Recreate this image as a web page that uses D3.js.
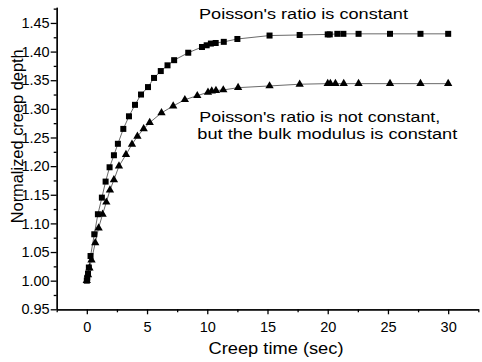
<!DOCTYPE html>
<html><head><meta charset="utf-8">
<script src="https://cdn.jsdelivr.net/npm/d3@7"></script>
<style>
html,body{margin:0;padding:0;background:#fff;}
svg{display:block;font-family:"Liberation Sans",Arial,sans-serif;}
</style></head>
<body><svg id="c" width="482" height="362"></svg>
<script>
// Series: Poisson's ratio constant (squares)
const sqX = [0,0.04,0.1,0.17,0.31,0.62,0.92,1.25,1.56,1.89,2.25,2.58,3.03,3.5,4.0,4.5,5.08,5.58,6.14,6.7,7.25,8.42,9.56,9.95,10.3,10.7,11.37,12.5,15.17,17.67,20.0,20.17,20.8,21.3,22.56,25.17,27.7,30.0];
const sqY = [1.000,1.005,1.012,1.023,1.043,1.081,1.116,1.145,1.173,1.198,1.219,1.239,1.265,1.287,1.307,1.325,1.338,1.354,1.366,1.376,1.385,1.398,1.408,1.411,1.414,1.415,1.417,1.422,1.428,1.429,1.430,1.430,1.431,1.431,1.431,1.431,1.431,1.431];
// Series: Poisson's ratio not constant, bulk modulus constant (triangles)
const trX = [0,0.1,0.22,0.39,0.7,0.98,1.31,1.62,1.92,2.25,2.67,3.25,3.75,4.2,4.72,5.22,6.2,7.17,8.14,9.17,10.06,10.37,10.72,11.33,12.56,15.17,17.67,20.0,20.22,20.64,21.33,22.56,25.17,27.7,30.0];
const trY = [1.000,1.010,1.022,1.036,1.066,1.092,1.116,1.137,1.158,1.176,1.200,1.220,1.238,1.252,1.265,1.276,1.293,1.305,1.316,1.323,1.329,1.331,1.332,1.333,1.337,1.340,1.343,1.344,1.344,1.344,1.344,1.344,1.344,1.344,1.344];
const xTicks = [0,5,10,15,20,25,30];
const xMinor = [-2.5,2.5,7.5,12.5,17.5,22.5,27.5,32.5];
const yTicks = [0.95,1.00,1.05,1.10,1.15,1.20,1.25,1.30,1.35,1.40,1.45];
const yMinor = [0.975,1.025,1.075,1.125,1.175,1.225,1.275,1.325,1.375,1.425,1.475];
const xTitle = "Creep time (sec)";
const yTitle = "Normalized creep depth";
const note1 = "Poisson's ratio is constant";
const note2a = "Poisson's ratio is not constant,";
const note2b = "but the bulk modulus is constant";

const svg = d3.select("#c");
const x = d3.scaleLinear().domain([-2.5,32.5]).range([56.7,478.3]);
const y = d3.scaleLinear().domain([0.95,1.4775]).range([309.3,7.2]);

// axes
const gx = svg.append("g").attr("transform",`translate(0,${y(0.95)})`)
  .call(d3.axisBottom(x).tickValues(xTicks).tickFormat(d3.format("d")).tickSize(5).tickSizeOuter(0).tickPadding(7));
const gxm = svg.append("g").attr("transform",`translate(0,${y(0.95)})`)
  .call(d3.axisBottom(x).tickValues(xMinor).tickFormat("").tickSize(3).tickSizeOuter(0));
const gy = svg.append("g").attr("transform",`translate(${x(-2.5)},0)`)
  .call(d3.axisLeft(y).tickValues(yTicks).tickFormat(d3.format(".2f")).tickSize(6).tickSizeOuter(0).tickPadding(1));
const gym = svg.append("g").attr("transform",`translate(${x(-2.5)},0)`)
  .call(d3.axisLeft(y).tickValues(yMinor).tickFormat("").tickSize(3).tickSizeOuter(0));
[gx,gxm,gy,gym].forEach(g=>{
  g.selectAll("path,line").attr("stroke","#000").attr("stroke-width",1.3);
  g.selectAll("text").attr("fill","#000").attr("font-size",14.5).attr("font-family","Liberation Sans, Arial, sans-serif");
});

// lines
const line = d3.line().x(d=>x(d[0])).y(d=>y(d[1]));
const sq = sqX.map((v,i)=>[v,sqY[i]]);
const tr = trX.map((v,i)=>[v,trY[i]]);
svg.append("path").datum(sq).attr("d",line).attr("fill","none").attr("stroke","#444").attr("stroke-width",0.8);
svg.append("path").datum(tr).attr("d",line).attr("fill","none").attr("stroke","#444").attr("stroke-width",0.8);

// markers
svg.append("g").selectAll("rect").data(sq).join("rect")
  .attr("x",d=>x(d[0])-3).attr("y",d=>y(d[1])-3).attr("width",6).attr("height",6).attr("fill","#000");
const tri = d3.symbol().type(d3.symbolTriangle).size(30);
svg.append("g").selectAll("path").data(tr).join("path")
  .attr("transform",d=>`translate(${x(d[0])},${y(d[1])})`).attr("d",tri).attr("fill","#000");

// titles
svg.append("text").attr("x",276).attr("y",354).attr("text-anchor","middle")
  .attr("font-size",16.5).attr("textLength",135).attr("lengthAdjust","spacingAndGlyphs").text(xTitle);
svg.append("text").attr("transform","translate(23,136.3) rotate(-90)").attr("text-anchor","middle")
  .attr("font-size",16).attr("textLength",174).attr("lengthAdjust","spacingAndGlyphs").text(yTitle);

// annotations
svg.append("text").attr("x",199).attr("y",18.5).attr("font-size",15.5)
  .attr("textLength",209).attr("lengthAdjust","spacingAndGlyphs").text(note1);
svg.append("text").attr("x",199.3).attr("y",121.7).attr("font-size",15.5)
  .attr("textLength",241).attr("lengthAdjust","spacingAndGlyphs").text(note2a);
svg.append("text").attr("x",197.3).attr("y",139.3).attr("font-size",15.5)
  .attr("textLength",260).attr("lengthAdjust","spacingAndGlyphs").text(note2b);
</script></body></html>
